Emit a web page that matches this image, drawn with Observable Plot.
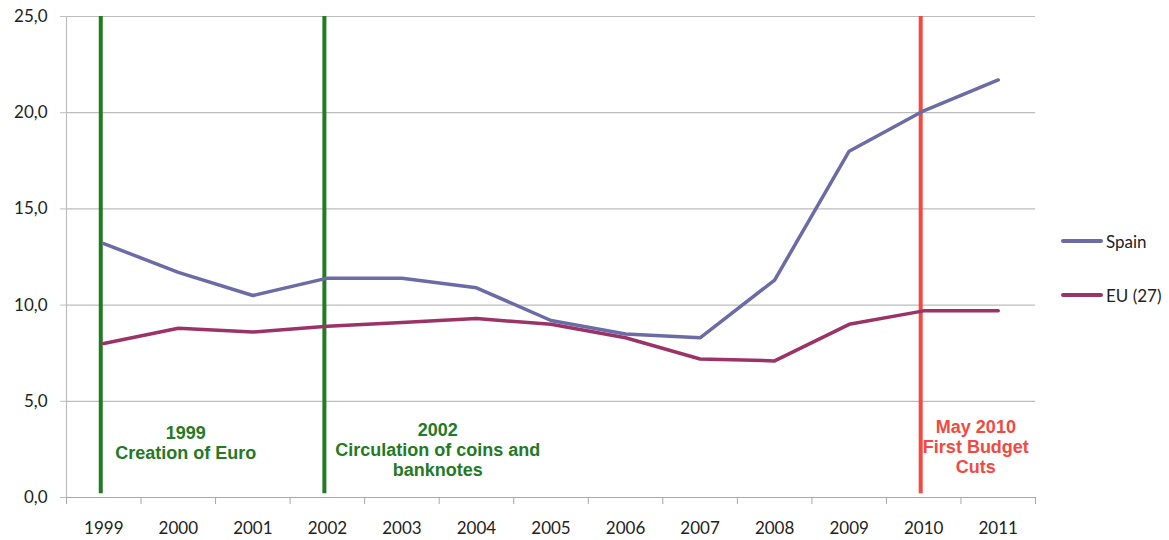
<!DOCTYPE html>
<html>
<head>
<meta charset="utf-8">
<script src="https://cdn.jsdelivr.net/npm/d3@7"></script>
<script src="https://cdn.jsdelivr.net/npm/@observablehq/plot@0.6"></script>
<style>
  html, body { margin: 0; padding: 0; background: #fff; }
  #wrap { position: relative; width: 1169px; height: 540px; }
  #legend { position: absolute; left: 1061px; top: 229px; font-family: Lato, "Open Sans", sans-serif; font-size: 17px; color: #222; }
  .item { display: flex; align-items: center; height: 24px; margin-bottom: 30px; }
  .sw { width: 42px; height: 4px; border-radius: 2px; margin-right: 3px; }
</style>
</head>
<body>
<div id="wrap"><div id="legend"></div></div>
<script>
const years = [1999, 2000, 2001, 2002, 2003, 2004, 2005, 2006, 2007, 2008, 2009, 2010, 2011];
const spain = [13.2, 11.7, 10.5, 11.4, 11.4, 10.9, 9.2, 8.5, 8.3, 11.3, 18.0, 20.1, 21.7];
const eu27  = [8.0, 8.8, 8.6, 8.9, 9.1, 9.3, 9.0, 8.3, 7.2, 7.1, 9.0, 9.7, 9.7];
const seriesNames = ["Spain", "EU (27)"];
const seriesColors = ["#6b6ba6", "#9c3366"];
const yTicks = [0, 5, 10, 15, 20, 25];
const eventYears = [1999, 2002, 2010];
const eventColors = ["#237a23", "#237a23", "#f5483f"];
const noteTexts = ["1999\nCreation of Euro", "2002\nCirculation of coins and\nbanknotes", "May 2010\nFirst Budget\nCuts"];
const noteX = [2000.1, 2003.48, 2010.7];
const noteY = [2.85, 2.5, 2.65];
const noteColors = ["#237a23", "#237a23", "#f5483f"];

const rows = [];
years.forEach((yr, i) => {
  rows.push({year: yr, value: spain[i], series: seriesNames[0]});
  rows.push({year: yr, value: eu27[i], series: seriesNames[1]});
});
const events = eventYears.map((y, i) => ({year: y, color: eventColors[i]}));
const notes = noteTexts.map((t, i) => ({text: t, x: noteX[i], y: noteY[i], color: noteColors[i]}));
const boundaries = d3.range(years[0] - 0.5, years[years.length - 1] + 1, 1);

const chart = Plot.plot({
  width: 1169,
  height: 540,
  marginLeft: 66,
  marginRight: 134,
  marginTop: 16,
  marginBottom: 43,
  style: {fontFamily: "Lato, 'Open Sans', sans-serif", fontSize: "17px", color: "#222", background: "#fff"},
  x: {type: "linear", domain: [years[0] - 0.5, years[years.length - 1] + 0.5]},
  y: {domain: [0, 25]},
  color: {domain: seriesNames, range: seriesColors},
  marks: [
    Plot.gridY(yTicks, {stroke: "#bdbdbd", strokeOpacity: 1, strokeWidth: 1.2}),
    Plot.axisY(yTicks, {tickSize: 6, tickPadding: 13, stroke: "#bdbdbd", tickFormat: d => d.toFixed(1).replace(".", ","), label: null, fontSize: 17, fill: "#222"}),
    Plot.ruleX([years[0] - 0.5], {stroke: "#bdbdbd", strokeWidth: 1.2}),
    Plot.ruleY([0], {stroke: "#a8a8a8", strokeWidth: 1.2}),
    Plot.axisX(boundaries, {tickSize: 7, tickFormat: () => "", stroke: "#a8a8a8", label: null}),
    Plot.axisX(years, {tickSize: 0, tickPadding: 24, tickFormat: d => String(d), label: null, fontSize: 17, fill: "#222"}),
    Plot.ruleX(events, {x: "year", y1: 0.2, y2: 25, stroke: "color", strokeWidth: 4, dx: -3}),
    Plot.line(rows, {x: "year", y: "value", z: "series", stroke: "series", strokeWidth: 3.5, strokeLinejoin: "round"}),
    Plot.text(notes, {x: "x", y: "y", text: "text", fill: "color", fontWeight: "bold", fontSize: 18, fontFamily: "Liberation Sans", lineHeight: 1.13, textAnchor: "middle", lineAnchor: "middle", ariaLabel: "notes"})
  ]
});
d3.select(chart).selectAll("g[aria-label='notes'] text")
  .style("font-family", "'Liberation Sans', Arial, sans-serif")
  .style("font-weight", "bold");
document.getElementById("wrap").prepend(chart);

const legend = document.getElementById("legend");
seriesNames.forEach((n, i) => {
  const d = document.createElement("div");
  d.className = "item";
  d.innerHTML = `<span class="sw" style="background:${seriesColors[i]}"></span><span>${n}</span>`;
  legend.appendChild(d);
});
</script>
</body>
</html>
